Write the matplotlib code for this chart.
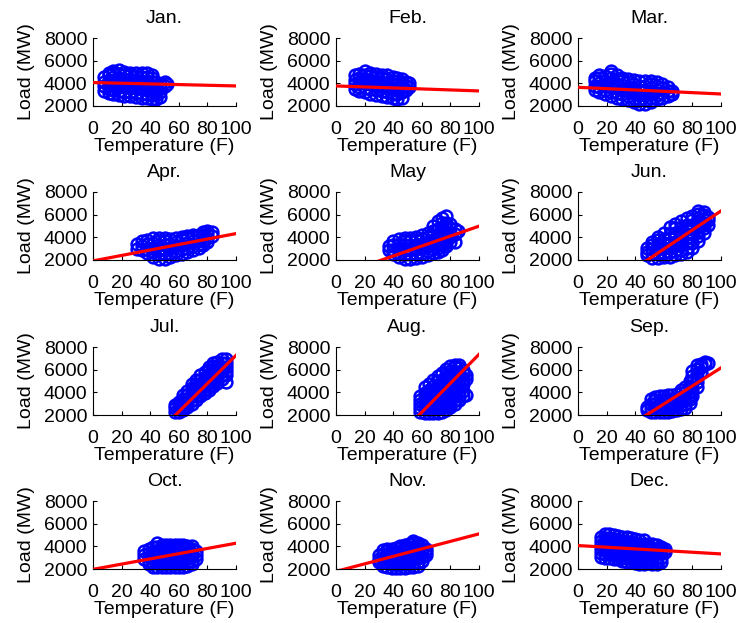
import matplotlib
matplotlib.use("Agg")
import matplotlib.pyplot as plt

plt.rcParams['font.family'] = ['Liberation Sans', 'DejaVu Sans']

months = ['Jan.', 'Feb.', 'Mar.', 'Apr.', 'May', 'Jun.',
          'Jul.', 'Aug.', 'Sep.', 'Oct.', 'Nov.', 'Dec.']
xticks = [0, 20, 40, 60, 80, 100]
yticks = [2000, 4000, 6000, 8000]
xlabel = 'Temperature (F)'
ylabel = 'Load (MW)'

# fitted regression lines: load at T=0 and at T=100
line_x = [0, 100]
line_y0 = [4070, 3770, 3650, 1920, 600, -2090, -5170, -5420, -1820, 1970, 1790, 4070]
line_y100 = [3770, 3330, 3060, 4330, 4985, 6330, 7260, 7350, 6160, 4275, 5100, 3330]

# scatter observations: (temperature, [loads at that temperature])
jan_pts = [
    (8, [3350, 3750, 4150, 4550]),
    (11, [3150, 3500, 3900, 4300, 4700, 4950]),
    (14, [3050, 3400, 3800, 4200, 4550, 4900, 5100]),
    (18, [2950, 3300, 3700, 4050, 4450, 4800, 5150]),
    (22, [2900, 3250, 3650, 4000, 4400, 4750, 5000]),
    (26, [2850, 3200, 3600, 3950, 4350, 4700, 4950]),
    (30, [2800, 3150, 3550, 3900, 4300, 4650, 4950]),
    (34, [2750, 3100, 3500, 3900, 4250, 4600, 4900]),
    (38, [2700, 3050, 3450, 3850, 4200, 4550, 4950]),
    (41, [2650, 3000, 3400, 3800, 4150, 4500, 4750]),
    (44, [2600, 2950, 3350, 3750, 4100]),
    (47, [2800, 3200, 3600, 3950]),
    (50, [3750, 4100]),
    (52, [3950]),
]
feb_pts = [
    (13, [3500, 3900, 4300, 4700]),
    (16, [3350, 3700, 4100, 4500, 4850]),
    (20, [3200, 3600, 4000, 4400, 4750, 5050]),
    (24, [3100, 3500, 3900, 4300, 4650, 4950]),
    (28, [3000, 3400, 3800, 4200, 4550, 4850]),
    (32, [2900, 3300, 3700, 4100, 4450, 4750]),
    (36, [2800, 3200, 3600, 4000, 4350, 4700]),
    (40, [2700, 3100, 3500, 3900, 4250, 4600]),
    (43, [2650, 3050, 3450, 3850, 4200, 4500]),
    (46, [2750, 3250, 3650, 4050, 4400]),
    (49, [3400, 3800, 4150]),
    (51, [3700, 4000]),
]
mar_pts = [
    (12, [3400, 3800, 4200, 4500]),
    (15, [3250, 3650, 4050, 4450, 4700]),
    (19, [3050, 3450, 3850, 4250, 4650]),
    (23, [2850, 3250, 3650, 4050, 4450, 4800, 5050]),
    (27, [2750, 3150, 3550, 3950, 4350, 4700]),
    (31, [2650, 3050, 3450, 3850, 4250, 4500]),
    (35, [2500, 2900, 3300, 3700, 4100, 4400]),
    (39, [2350, 2750, 3150, 3550, 3950, 4300]),
    (43, [2200, 2600, 3000, 3400, 3800, 4250]),
    (47, [2150, 2550, 2950, 3350, 3750, 4200]),
    (51, [2350, 2750, 3150, 3550, 3950, 4200]),
    (55, [2600, 3000, 3400, 3800, 4100]),
    (59, [2750, 3150, 3550, 3900]),
    (63, [2900, 3300, 3650]),
    (66, [3050, 3350]),
]
apr_pts = [
    (31, [3000, 3400]),
    (34, [2850, 3250, 3650]),
    (38, [2600, 3000, 3400, 3800]),
    (42, [2300, 2700, 3100, 3500, 3900]),
    (46, [2100, 2500, 2900, 3300, 3700, 3950]),
    (50, [2100, 2500, 2900, 3300, 3700, 3900]),
    (54, [2250, 2650, 3050, 3450, 3850]),
    (58, [2400, 2800, 3200, 3600, 3950]),
    (62, [2550, 2950, 3350, 3750, 4050]),
    (66, [2700, 3100, 3500, 3900, 4100]),
    (70, [2850, 3250, 3650, 4050, 4200]),
    (74, [3050, 3450, 3850, 4250]),
    (77, [3300, 3700, 4100, 4450]),
    (80, [3600, 3950, 4300, 4600]),
    (83, [4100, 4450]),
]
may_pts = [
    (37, [2850, 3200]),
    (40, [2500, 2900, 3300, 3650]),
    (44, [2250, 2650, 3050, 3450, 3850]),
    (48, [2100, 2500, 2900, 3300, 3700, 3900]),
    (52, [2100, 2500, 2900, 3300, 3700, 3950]),
    (56, [2150, 2550, 2950, 3350, 3750, 4050]),
    (60, [2250, 2650, 3050, 3450, 3850, 4200]),
    (64, [2400, 2800, 3200, 3600, 4000, 4400]),
    (68, [2600, 3000, 3400, 3800, 4200, 4600, 5000]),
    (71, [2700, 3100, 3500, 3900, 4300, 4700, 5450]),
    (74, [2900, 3300, 3700, 4100, 4500, 4900, 5300, 5700]),
    (77, [3200, 3600, 4000, 4400, 4800, 5300, 5850]),
    (80, [3600, 4000, 4400, 4800, 5200]),
    (83, [3600, 4300, 4700]),
    (85, [4600]),
]
jun_pts = [
    (48, [2400, 2750, 3100]),
    (52, [2200, 2600, 3000, 3350, 3600]),
    (56, [2200, 2600, 3000, 3400, 3750, 4000]),
    (60, [2250, 2650, 3050, 3450, 3850, 4350]),
    (64, [2300, 2700, 3100, 3500, 3900, 4300, 4900]),
    (68, [2400, 2800, 3200, 3600, 4000, 4400, 4800, 5200]),
    (72, [2500, 2900, 3300, 3700, 4100, 4500, 4900, 5450]),
    (76, [2700, 3100, 3500, 3900, 4300, 4700, 5100, 5700]),
    (80, [3100, 3500, 3900, 4300, 4700, 5100, 5500, 5900]),
    (84, [3700, 4100, 4500, 4900, 5300, 5700, 6100, 6300]),
    (88, [4400, 4800, 5200, 5600, 6000, 6200]),
    (91, [5100, 5500, 5800]),
]
jul_pts = [
    (57, [2300, 2600, 2850]),
    (60, [2250, 2550, 2850, 3150]),
    (63, [2400, 2750, 3100, 3450, 3750]),
    (66, [2750, 3100, 3450, 3800, 4150]),
    (69, [3000, 3350, 3700, 4050, 4400, 4700]),
    (72, [3300, 3650, 4000, 4350, 4700, 5050]),
    (75, [3650, 4000, 4350, 4700, 5050, 5500]),
    (78, [3950, 4300, 4650, 5000, 5350, 5800]),
    (81, [4250, 4600, 4950, 5300, 5650, 6000, 6250]),
    (84, [4550, 4900, 5250, 5600, 5950, 6300, 6550]),
    (87, [4850, 5200, 5550, 5900, 6250, 6700]),
    (90, [5200, 5550, 5900, 6250, 6600, 6950]),
    (93, [4900, 5500, 5850, 6200, 6550, 6950]),
]
aug_pts = [
    (59, [2300, 2650, 3000, 3350, 3700]),
    (62, [2200, 2550, 2900, 3250, 3600, 3950, 4450]),
    (65, [2150, 2500, 2850, 3200, 3550, 3900, 4250, 4700]),
    (68, [2150, 2500, 2850, 3200, 3550, 3900, 4250, 4600, 5050]),
    (71, [2200, 2550, 2900, 3250, 3600, 3950, 4300, 4650, 5000, 5450]),
    (74, [2300, 2650, 3000, 3350, 3700, 4050, 4400, 4750, 5100, 5750]),
    (77, [2450, 2800, 3150, 3500, 3850, 4200, 4550, 4900, 5250, 5600, 6050]),
    (80, [2700, 3050, 3400, 3750, 4100, 4450, 4800, 5150, 5500, 5850, 6300]),
    (83, [3000, 3350, 3700, 4050, 4400, 4750, 5100, 5450, 5800, 6200, 6400]),
    (86, [3350, 3700, 4050, 4400, 4750, 5100, 5450, 5800, 6150, 6400]),
    (89, [3700, 4100, 4700, 5200, 5700, 6000]),
    (91, [3750, 5200, 5500]),
]
sep_pts = [
    (48, [2400, 2750]),
    (51, [2300, 2650, 3000, 3400]),
    (54, [2250, 2600, 2950, 3300, 3550]),
    (57, [2250, 2600, 2950, 3300, 3650]),
    (60, [2250, 2600, 2950, 3300, 3700]),
    (63, [2300, 2650, 3000, 3350, 3750]),
    (66, [2350, 2700, 3050, 3400, 3800]),
    (69, [2400, 2750, 3100, 3450, 3850]),
    (72, [2500, 2850, 3200, 3550, 3900, 4200]),
    (75, [2650, 3000, 3350, 3700, 4050, 4450]),
    (78, [3100, 3450, 3800, 4150, 4550, 5000]),
    (80, [3700, 4100, 4500, 4900, 5400, 5900]),
    (83, [4500, 4900, 5300, 5700, 6100, 6400]),
    (86, [5800, 6200, 6500]),
    (89, [6500, 6650]),
    (91, [6550]),
]
oct_pts = [
    (36, [2900, 3250, 3600]),
    (39, [2400, 2750, 3100, 3450, 3800]),
    (42, [2200, 2550, 2900, 3250, 3600, 3950]),
    (45, [2150, 2500, 2850, 3200, 3550, 3900, 4300]),
    (48, [2150, 2500, 2850, 3200, 3550, 3900, 4150]),
    (51, [2150, 2500, 2850, 3200, 3550, 3900, 4100]),
    (54, [2150, 2500, 2850, 3200, 3550, 3900, 4100]),
    (57, [2150, 2500, 2850, 3200, 3550, 3900, 4100]),
    (60, [2150, 2500, 2850, 3200, 3550, 3900, 4100]),
    (63, [2200, 2550, 2900, 3250, 3600, 3950, 4100]),
    (66, [2250, 2600, 2950, 3300, 3650, 4000]),
    (69, [2400, 2750, 3100, 3450, 3800, 4000]),
    (72, [2900, 3250, 3600]),
]
nov_pts = [
    (30, [2600, 2900, 3200]),
    (33, [2300, 2650, 3000, 3350, 3650]),
    (36, [2150, 2500, 2850, 3200, 3550, 3800]),
    (39, [2100, 2450, 2800, 3150, 3500, 3800]),
    (42, [2100, 2450, 2800, 3150, 3500, 3850]),
    (45, [2100, 2450, 2800, 3150, 3500, 3850, 4050]),
    (48, [2100, 2450, 2800, 3150, 3500, 3850, 4100]),
    (51, [2150, 2500, 2850, 3200, 3550, 3900, 4250]),
    (54, [2150, 2500, 2850, 3200, 3550, 3900, 4300, 4500]),
    (57, [2250, 2600, 2950, 3300, 3650, 4000, 4300]),
    (60, [2700, 3050, 3400, 3750, 4100]),
    (63, [3200, 3500, 3800]),
]
dec_pts = [
    (16, [3050, 3400, 3750, 4100, 4450, 4800]),
    (19, [3000, 3350, 3700, 4050, 4400, 4750, 5100]),
    (22, [2950, 3300, 3650, 4000, 4350, 4700, 5100]),
    (25, [2900, 3250, 3600, 3950, 4300, 4650, 5000]),
    (28, [2850, 3200, 3550, 3900, 4250, 4600, 4950]),
    (31, [2750, 3100, 3450, 3800, 4150, 4500, 4850]),
    (34, [2650, 3000, 3350, 3700, 4050, 4400, 4800]),
    (37, [2600, 2950, 3300, 3650, 4000, 4350, 4750]),
    (40, [2500, 2850, 3200, 3550, 3900, 4250, 4650]),
    (43, [2400, 2750, 3100, 3450, 3800, 4150, 4600]),
    (46, [2450, 2800, 3150, 3500, 3850, 4200, 4550]),
    (49, [2500, 2850, 3200, 3550, 3900, 4250]),
    (52, [2450, 2800, 3150, 3500, 3850, 4200]),
    (55, [2400, 2750, 3100, 3450, 3800, 4100]),
    (58, [2600, 3000, 3400, 3750, 3950]),
    (61, [3500, 3800]),
]
month_pts = [jan_pts, feb_pts, mar_pts, apr_pts, may_pts, jun_pts,
             jul_pts, aug_pts, sep_pts, oct_pts, nov_pts, dec_pts]

# layout (pixels)
W, H = 739, 623
col_left = [93, 336, 578]
row_top = [38, 192, 347, 501]
ax_w, ax_h = 143, 68

fig = plt.figure(figsize=(W / 100, H / 100), dpi=100)
for i, name in enumerate(months):
    r, c = divmod(i, 3)
    ax = fig.add_axes([col_left[c] / W, 1 - (row_top[r] + ax_h) / H, ax_w / W, ax_h / H])
    pts = month_pts[i]
    xs = [t for t, loads in pts for _ in loads]
    ys = [v for t, loads in pts for v in loads]
    ax.plot(xs, ys, linestyle='none', marker='o', markersize=8.5,
            markerfacecolor='none', markeredgecolor='#0000ff',
            markeredgewidth=1.8, clip_on=False, zorder=2)
    ax.plot(line_x, [line_y0[i], line_y100[i]], color='#ff0000', lw=2.3, zorder=3)
    ax.set_xlim(0, 100)
    ax.set_ylim(2000, 8000)
    ax.set_xticks(xticks)
    ax.set_yticks(yticks)
    ax.spines['top'].set_visible(False)
    ax.spines['right'].set_visible(False)
    for s in ('left', 'bottom'):
        ax.spines[s].set_linewidth(0.8)
    ax.tick_params(direction='in', length=3, width=0.8, labelsize=14)
    ax.tick_params(axis='x', pad=11)
    ax.tick_params(axis='y', pad=4)
    ax.set_title(name, fontsize=14, pad=11)
    ax.set_xlabel(xlabel, fontsize=14, labelpad=0)
    ax.set_ylabel(ylabel, fontsize=14, labelpad=6)
    ax.patch.set_alpha(0)

fig.savefig('out.png', dpi=100)
